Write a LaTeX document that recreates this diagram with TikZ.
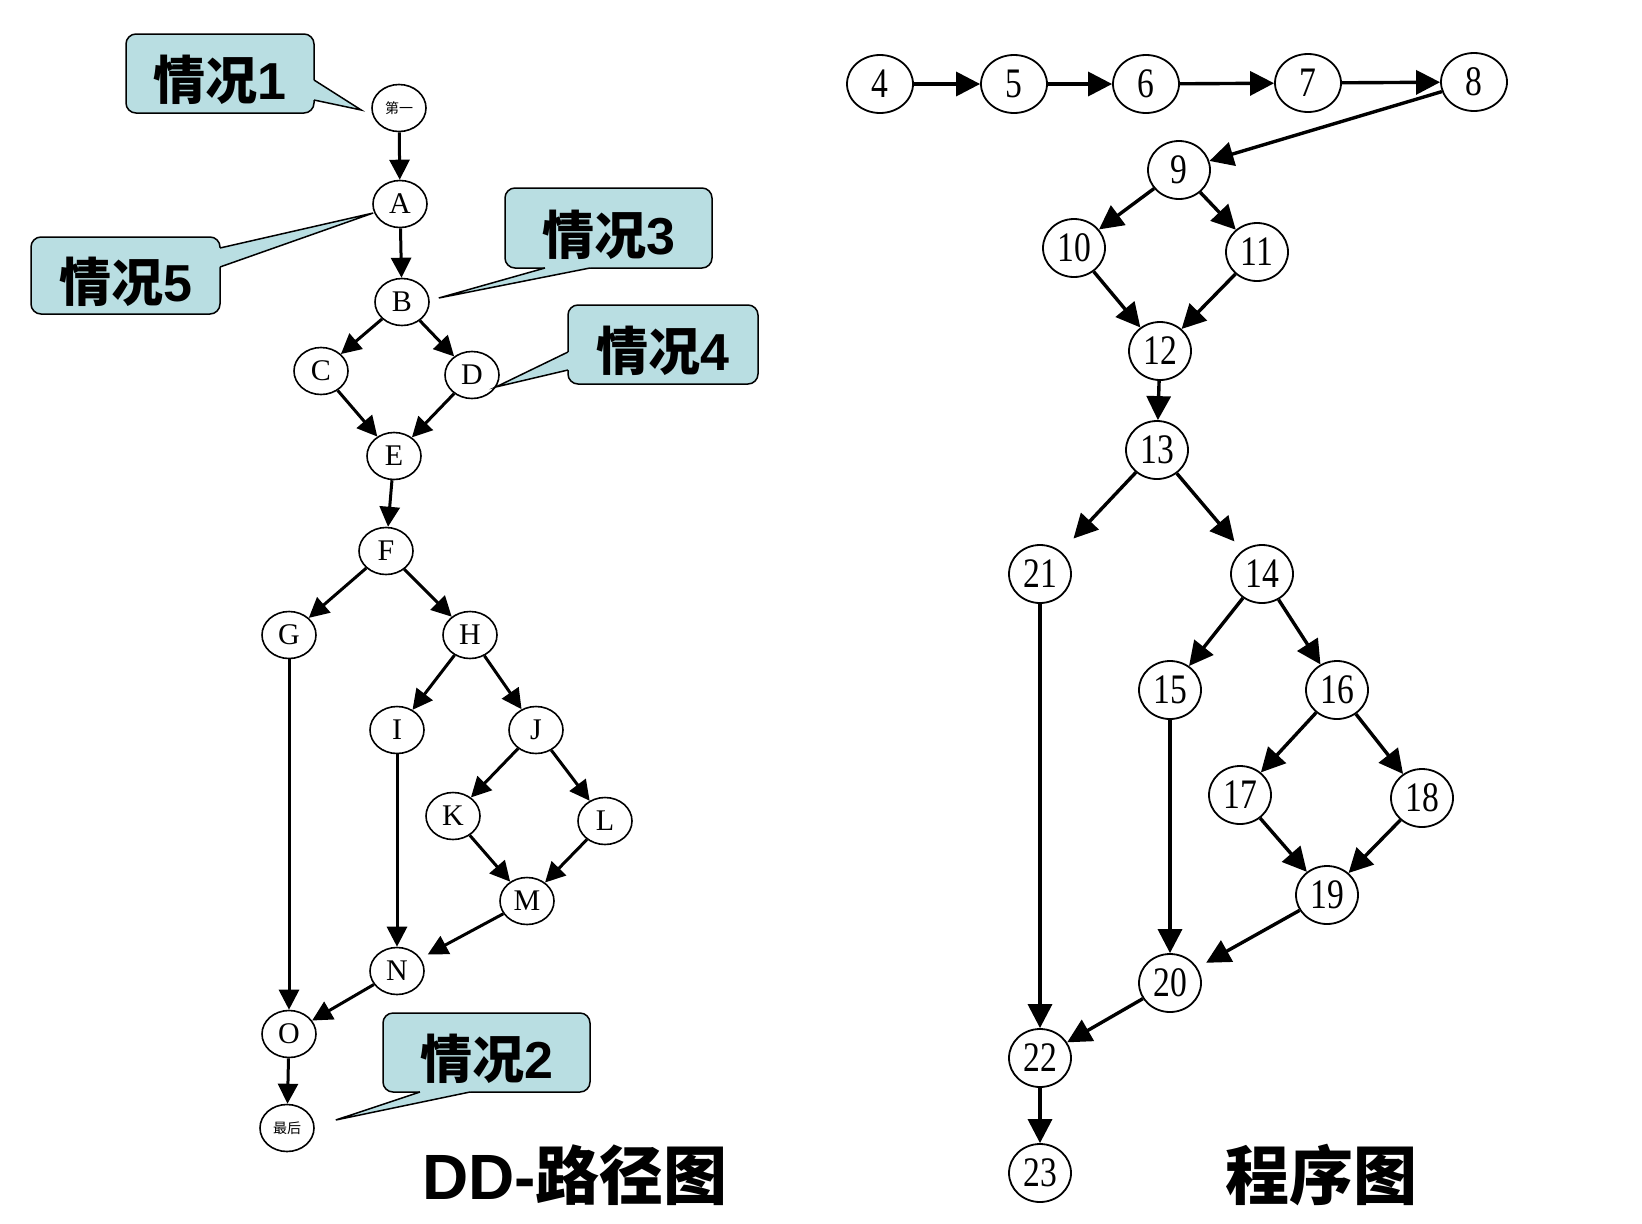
\documentclass[tikz,border=0pt]{standalone}
\usepackage{fontspec}
\setmainfont{Liberation Serif}
\newfontfamily\cjk{Noto Sans CJK SC}
\newfontfamily\latinsans{Liberation Sans}
\newfontfamily\numfont{Liberation Serif}[FakeStretch=0.8]
\usetikzlibrary{arrows.meta,shapes.geometric,calc}
\definecolor{callfill}{RGB}{185,222,226}

% pointer of a callout: base1, base2, tip, inward shift
\newcommand\callptr[4]{%
  \fill[callfill] (#1) -- (#3) -- (#2) -- ($(#2)+(#4)$) -- ($(#1)+(#4)$) -- cycle;
  \draw[line width=1.5pt] (#1) -- (#3) -- (#2);}
% callout text
\newcommand\casetext[1]{{\cjk 情况}{\latinsans #1}}

\begin{document}
\begin{tikzpicture}[
    x=1pt, y=-1pt,
    >={Triangle[length=20pt,width=20pt]},
    dd/.style={ellipse, draw, line width=1.6pt, minimum width=54pt, minimum height=47pt,
               inner sep=0pt, font=\fontsize{30}{30}\selectfont},
    small/.style={font=\cjk\fontsize{14}{14}\selectfont},
    pg/.style={ellipse, draw, line width=1.8pt, minimum width=62pt, minimum height=58pt,
               inner sep=0pt, font=\numfont\fontsize{42}{42}\selectfont},
    wide/.style={minimum width=66pt},
    call/.style={draw, line width=1.5pt, fill=callfill, rounded corners=10pt,
                 inner sep=0pt, outer sep=0pt, text height=52pt, text depth=0pt,
                 font=\bfseries\fontsize{52}{52}\selectfont},
    ddedge/.style={->, line width=3pt},
    pgedge/.style={>={Triangle[length=24pt,width=24pt]}, ->, line width=3.4pt},
    title/.style={inner sep=0pt, font=\bfseries\fontsize{64}{64}\selectfont}
]
  \useasboundingbox (0,0) rectangle (1642,1224);

  % DD-path nodes
  \node[dd, small] (first) at (399,108) {第一};
  \node[dd] (A) at (400,204) {A};
  \node[dd] (B) at (402,302) {B};
  \node[dd] (C) at (321,371) {C};
  \node[dd] (D) at (472,375) {D};
  \node[dd] (E) at (394,456) {E};
  \node[dd] (F) at (386,551) {F};
  \node[dd] (G) at (289,635) {G};
  \node[dd] (H) at (470,635) {H};
  \node[dd] (I) at (397,730) {I};
  \node[dd] (J) at (536,730) {J};
  \node[dd] (K) at (453,816) {K};
  \node[dd] (L) at (605,821) {L};
  \node[dd] (M) at (527,901) {M};
  \node[dd] (N) at (397,971) {N};
  \node[dd] (O) at (289,1034) {O};
  \node[dd, small] (last) at (287,1128) {最后};

  % DD-path edges
  \draw[ddedge] (first) -- (A);
  \draw[ddedge] (A) -- (B);
  \draw[ddedge] (B) -- (C);
  \draw[ddedge] (B) -- (D);
  \draw[ddedge] (C) -- (E);
  \draw[ddedge] (D) -- (E);
  \draw[ddedge] (E) -- (F);
  \draw[ddedge] (F) -- (G);
  \draw[ddedge] (F) -- (H);
  \draw[ddedge] (H) -- (I);
  \draw[ddedge] (H) -- (J);
  \draw[ddedge] (J) -- (K);
  \draw[ddedge] (J) -- (L);
  \draw[ddedge] (K) -- (M);
  \draw[ddedge] (L) -- (M);
  \draw[ddedge] (I) -- (N);
  \draw[ddedge, shorten >=8pt] (M) -- (N);
  \draw[ddedge] (G) -- (O);
  \draw[ddedge] (N) -- (O);
  \draw[ddedge] (O) -- (last);

  % callouts
  \node[call, minimum width=188pt, minimum height=79pt] (c1) at (220,73.5) {\casetext{1}};
  \node[call, minimum width=207pt, minimum height=79pt] (c2) at (486.5,1052.5) {\casetext{2}};
  \node[call, minimum width=207pt, minimum height=80pt] (c3) at (608.5,228) {\casetext{3}};
  \node[call, minimum width=190pt, minimum height=79pt] (c4) at (663,344.5) {\casetext{4}};
  \node[call, minimum width=189pt, minimum height=77pt] (c5) at (125.5,275.5) {\casetext{5}};

  \coordinate (t1) at ($(first.west)+(-10,2)$);
  \coordinate (t2) at ($(last.east)+(21,-8)$);
  \coordinate (t3) at ($(B.east)+(9,-4)$);
  \coordinate (t4) at ($(D.east)+(-4,12)$);
  \coordinate (t5) at ($(A.west)+(1,9)$);
  \coordinate (c1a) at ($(c1.east)+(0,6.5)$);
  \coordinate (c1b) at ($(c1.east)+(0,26.5)$);
  \coordinate (c2a) at ($(c2.south)+(-66.5,0)$);
  \coordinate (c2b) at ($(c2.south)+(-16.5,0)$);
  \coordinate (c3a) at ($(c3.south)+(-63.5,0)$);
  \coordinate (c3b) at ($(c3.south)+(-18.5,0)$);
  \coordinate (c4a) at ($(c4.west)+(0,7.5)$);
  \coordinate (c4b) at ($(c4.west)+(0,25.5)$);
  \coordinate (c5a) at ($(c5.east)+(0,-27.5)$);
  \coordinate (c5b) at ($(c5.east)+(0,-8.5)$);
  \callptr{c1a}{c1b}{t1}{-4,0}
  \callptr{c2a}{c2b}{t2}{0,-4}
  \callptr{c3a}{c3b}{t3}{0,-4}
  \callptr{c4a}{c4b}{t4}{4,0}
  \callptr{c5a}{c5b}{t5}{-4,0}

  % program graph nodes
  \node[pg, wide] (n4) at (880,84) {4};
  \node[pg, wide] (n5) at (1014,84) {5};
  \node[pg, wide] (n6) at (1146,84) {6};
  \node[pg, wide] (n7) at (1308,83) {7};
  \node[pg, wide] (n8) at (1474,82) {8};
  \node[pg] (n9) at (1179,170) {9};
  \node[pg] (n10) at (1074,248) {10};
  \node[pg] (n11) at (1257,252) {11};
  \node[pg] (n12) at (1160,351) {12};
  \node[pg] (n13) at (1157,450) {13};
  \node[pg] (n21) at (1040,574) {21};
  \node[pg] (n14) at (1262,574) {14};
  \node[pg] (n15) at (1170,690) {15};
  \node[pg] (n16) at (1337,690) {16};
  \node[pg] (n17) at (1240,795) {17};
  \node[pg] (n18) at (1422,798) {18};
  \node[pg] (n19) at (1327,895) {19};
  \node[pg] (n20) at (1170,983) {20};
  \node[pg] (n22) at (1040,1058) {22};
  \node[pg] (n23) at (1040,1173) {23};

  % program graph edges
  \draw[pgedge] (n4) -- (n5);
  \draw[pgedge] (n5) -- (n6);
  \draw[pgedge] (n6) -- (n7);
  \draw[pgedge] (n7) -- (n8);
  \draw[pgedge] (n8) -- (n9);
  \draw[pgedge] (n9) -- (n10);
  \draw[pgedge] (n9) -- (n11);
  \draw[pgedge] (n10) -- (n12);
  \draw[pgedge] (n11) -- (n12);
  \draw[pgedge] (n12) -- (n13);
  \draw[pgedge, shorten >=18pt] (n13) -- (n21);
  \draw[pgedge, shorten >=12pt] (n13) -- (n14);
  \draw[pgedge] (n14) -- (n15);
  \draw[pgedge] (n14) -- (n16);
  \draw[pgedge] (n16) -- (n17);
  \draw[pgedge] (n16) -- (n18);
  \draw[pgedge] (n17) -- (n19);
  \draw[pgedge] (n18) -- (n19);
  \draw[pgedge] (n15) -- (n20);
  \draw[pgedge, shorten >=10pt] (n19) -- (n20);
  \draw[pgedge] (n21) -- (n22);
  \draw[pgedge] (n20) -- (n22);
  \draw[pgedge] (n22) -- (n23);

  % titles
  \node[title] (ddtitle) at (575,1175) {{\latinsans DD-}{\cjk 路径图}};
  \node[title] (pgtitle) at (1321,1175) {{\cjk 程序图}};
\end{tikzpicture}
\end{document}
